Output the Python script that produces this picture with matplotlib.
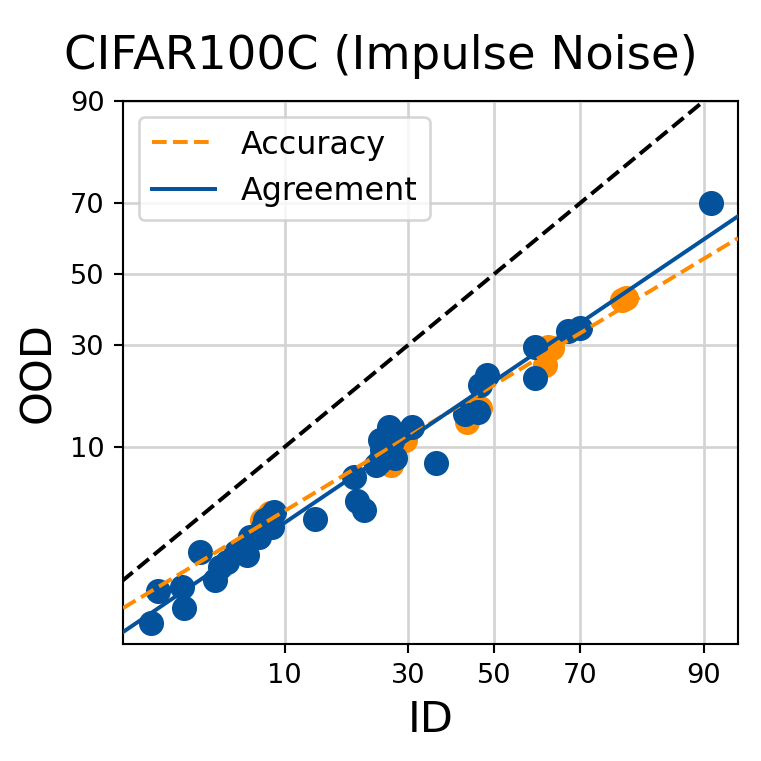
import numpy as np
import matplotlib
matplotlib.use("Agg")
import matplotlib.pyplot as plt
from statistics import NormalDist

# ID / OOD values in percent
agr_id = [1.8, 2.0, 2.8, 2.9, 3.6, 4.4, 4.7, 5.1, 5.7, 6.5, 6.8, 7.5, 7.9, 8.1, 8.5, 8.9, 8.7,
          13.7, 19.6, 20.1, 21.3, 23.5, 24.1, 24.3, 24.7, 26.0, 27.2, 26.6, 30.8, 36.1,
          43.0, 46.1, 46.6, 48.3, 59.9, 59.9, 67.5, 70.0, 90.7]
agr_ood = [0.49, 0.94, 1.02, 0.67, 1.97, 1.17, 1.50, 1.65, 1.97, 1.87, 2.57, 2.57, 3.05, 3.42, 3.59, 3.90, 3.05,
           3.48, 6.6, 4.6, 4.0, 7.8, 8.2, 10.9, 9.6, 12.9, 8.7, 10.8, 12.9, 8.1,
           15.0, 15.3, 20.6, 22.7, 29.4, 22.1, 33.6, 34.5, 70.0]

acc_id = [7.8, 8.5, 8.2, 26.4, 29.3, 43.4, 62.2, 62.9, 63.9, 78.3, 79.0, 24.5, 46.5]
acc_ood = [3.4, 3.85, 3.6, 7.9, 10.9, 13.7, 25.0, 29.4, 29.2, 42.4, 43.0, 8.5, 16.0]

# linear fits in probit space (slope, intercept)
fit_acc = (0.729, -0.821)
fit_agr = (0.8195, -0.793)

ticks = [10, 30, 50, 70, 90]
xlim = (1.163, 93.2)
ylim = (0.306, 90)

nd = NormalDist()
_ppf = np.vectorize(lambda p: nd.inv_cdf(min(max(p, 1e-9), 1 - 1e-9)), otypes=[float])
_cdf = np.vectorize(nd.cdf, otypes=[float])


def fwd(x):
    return _ppf(np.asarray(x, dtype=float) / 100.0)


def inv(u):
    return _cdf(np.asarray(u, dtype=float)) * 100.0


blue = '#03529b'
orange = '#ff8c00'

fig = plt.figure(figsize=(4, 4), dpi=190.25)
ax = fig.add_axes([0.1616, 0.1537, 0.8084, 0.7136])
ax.set_xscale('function', functions=(fwd, inv))
ax.set_yscale('function', functions=(fwd, inv))

ax.scatter(acc_id, acc_ood, s=90, color=orange, zorder=2, linewidths=0)
ax.scatter(agr_id, agr_ood, s=90, color=blue, zorder=2.1, linewidths=0)

u = np.linspace(fwd(xlim[0]), fwd(xlim[1]), 50)
ax.plot(inv(u), inv(fit_acc[0] * u + fit_acc[1]), '--', color=orange, lw=1.5, label='Accuracy', zorder=3)
ax.plot(inv(u), inv(fit_agr[0] * u + fit_agr[1]), '-', color=blue, lw=1.5, label='Agreement', zorder=3)
ax.plot([0.5, 99], [0.5, 99], '--', color='black', lw=1.5, zorder=3)

ax.set_xlim(*xlim)
ax.set_ylim(*ylim)
ax.set_xticks(ticks)
ax.set_yticks(ticks)
ax.set_xticklabels([str(t) for t in ticks])
ax.set_yticklabels([str(t) for t in ticks])
ax.minorticks_off()
ax.tick_params(labelsize=10.3)
ax.grid(True, color='#d3d3d3', lw=1.0)
ax.set_axisbelow(True)

ax.set_xlabel('ID', fontsize=16.3)
ax.set_ylabel('OOD', fontsize=16.3)
fig.suptitle('CIFAR100C (Impulse Noise)', fontsize=17.6, x=0.5, y=0.955)
ax.legend(loc='upper left', fontsize=12)

fig.savefig('out.png', dpi=190.25)
